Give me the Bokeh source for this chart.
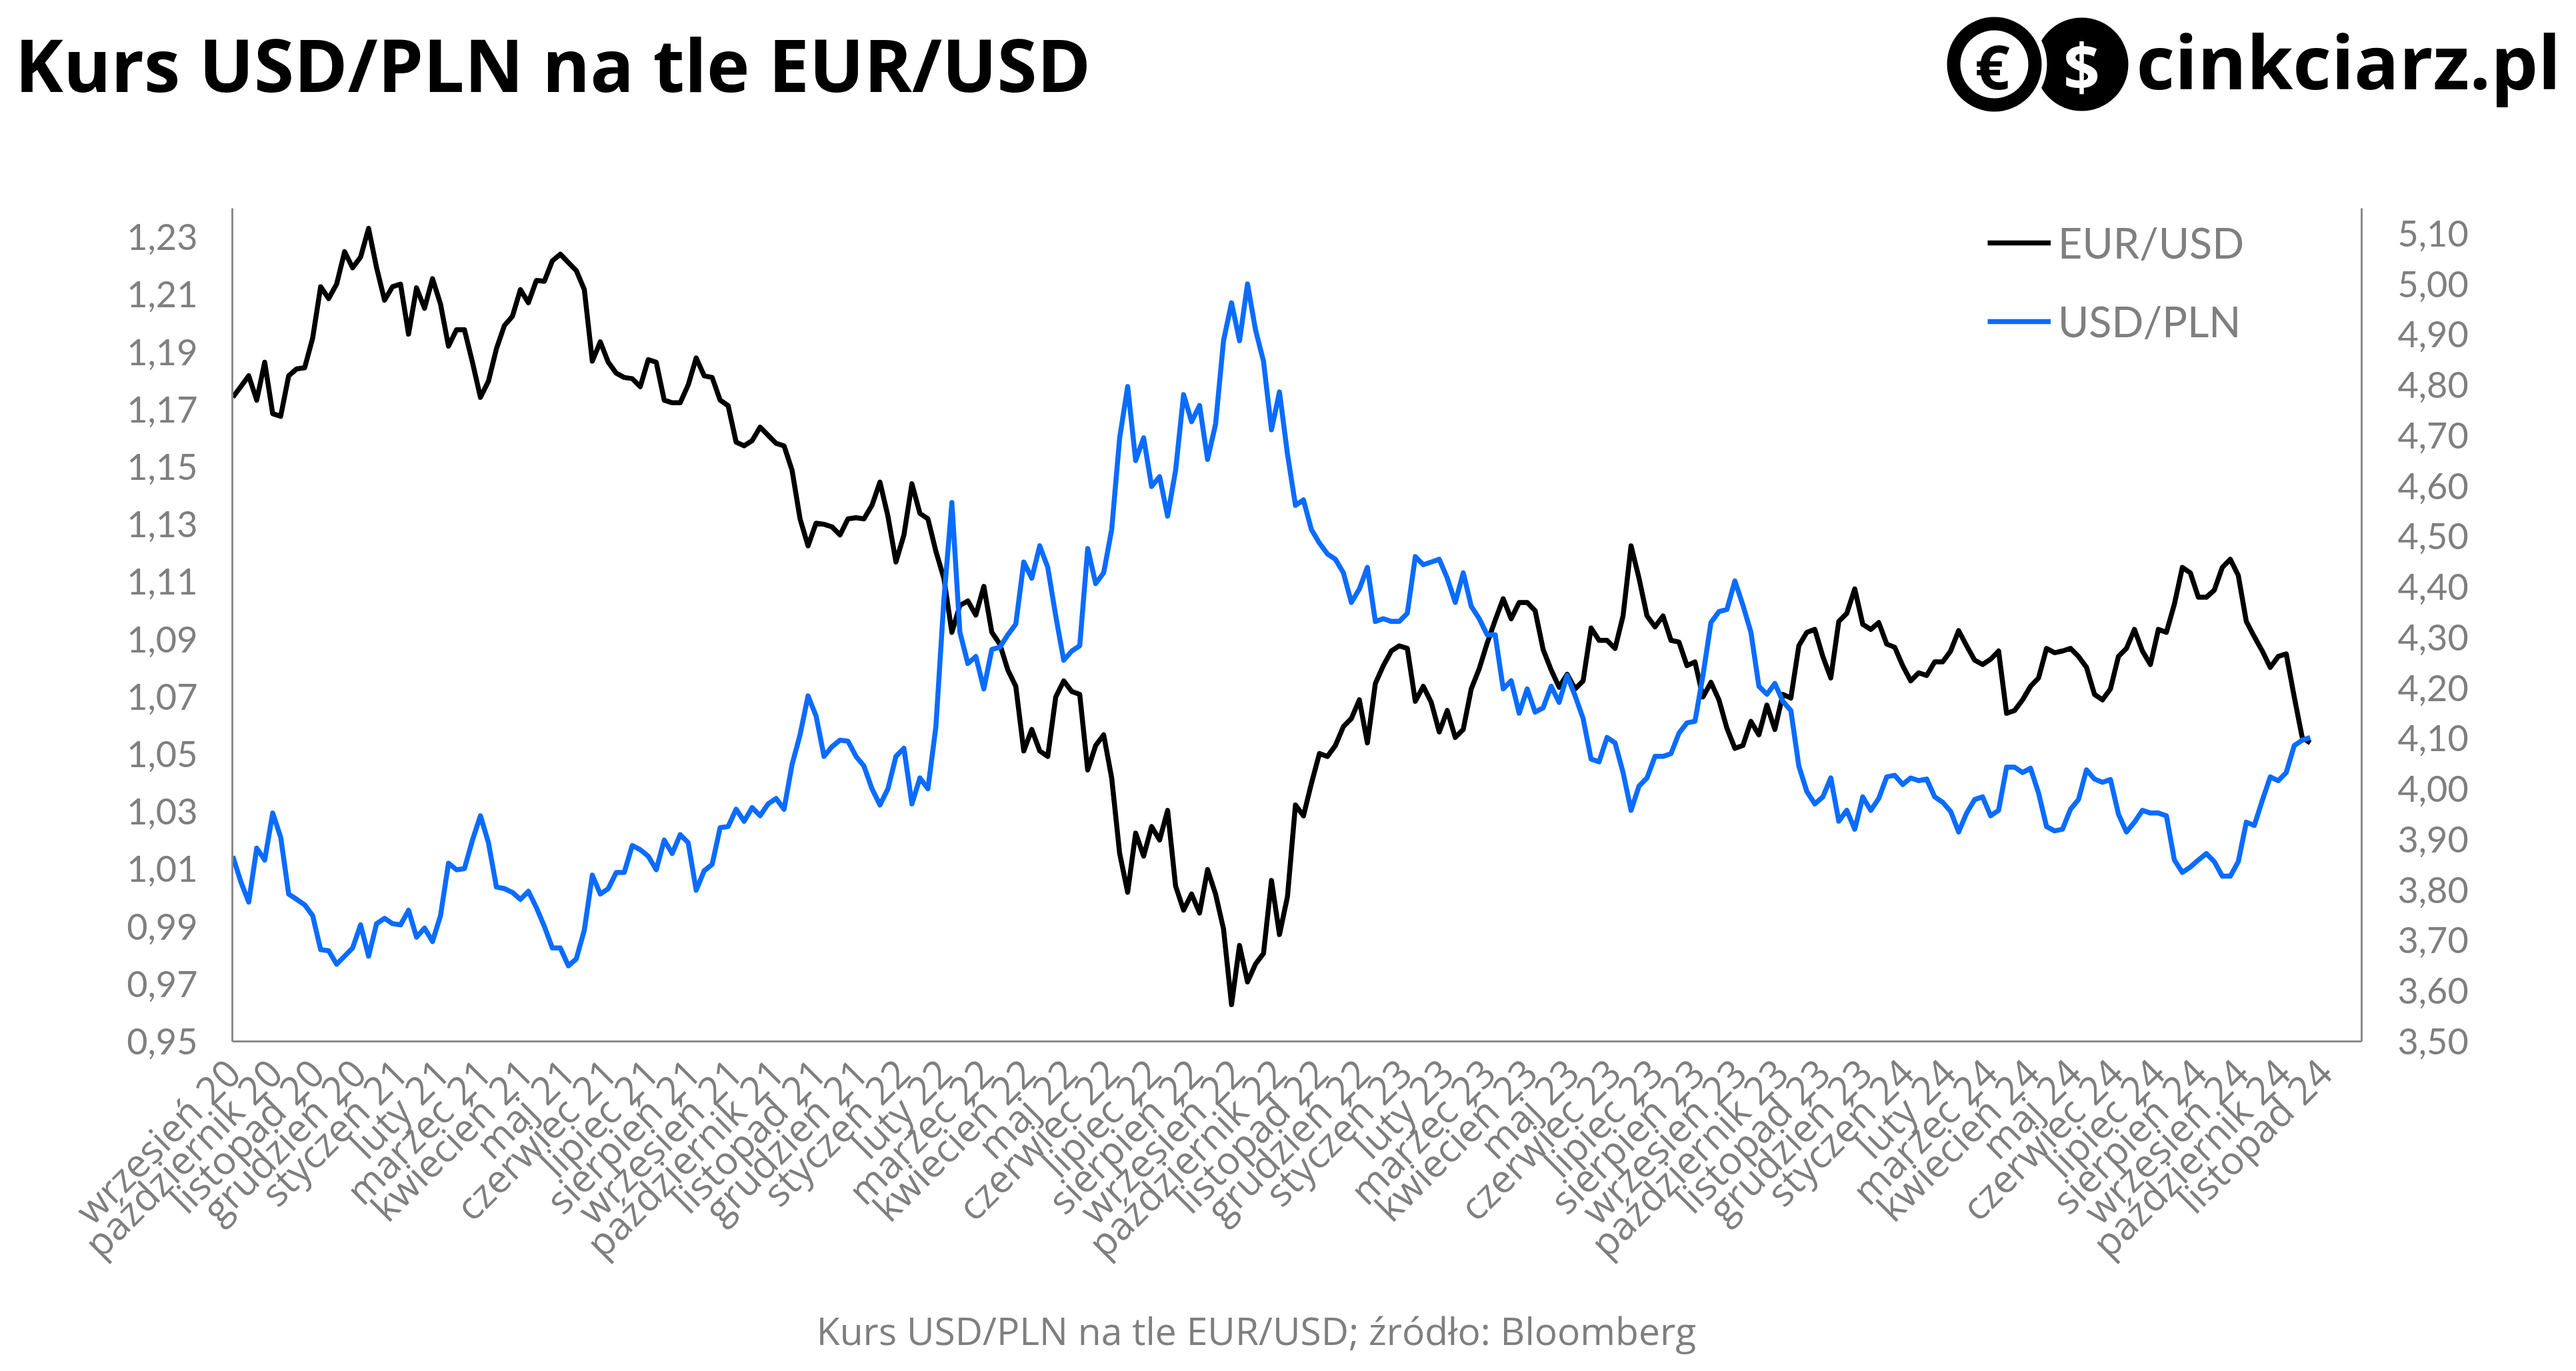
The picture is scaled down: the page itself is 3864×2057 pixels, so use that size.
import numpy as np
from math import pi
from bokeh.plotting import figure
from bokeh.models import (Range1d, LinearAxis, FixedTicker, CustomJSTickFormatter,
                          Label, Legend, LegendItem)
from bokeh.embed import file_html
from bokeh.resources import INLINE

# ---------------- data ----------------
months = [
    "wrzesień 20", "październik 20", "listopad 20", "grudzień 20",
    "styczeń 21", "luty 21", "marzec 21", "kwiecień 21", "maj 21", "czerwiec 21",
    "lipiec 21", "sierpień 21", "wrzesień 21", "październik 21", "listopad 21", "grudzień 21",
    "styczeń 22", "luty 22", "marzec 22", "kwiecień 22", "maj 22", "czerwiec 22",
    "lipiec 22", "sierpień 22", "wrzesień 22", "październik 22", "listopad 22", "grudzień 22",
    "styczeń 23", "luty 23", "marzec 23", "kwiecień 23", "maj 23", "czerwiec 23",
    "lipiec 23", "sierpień 23", "wrzesień 23", "październik 23", "listopad 23", "grudzień 23",
    "styczeń 24", "luty 24", "marzec 24", "kwiecień 24", "maj 24", "czerwiec 24",
    "lipiec 24", "sierpień 24", "wrzesień 24", "październik 24", "listopad 24",
]

eur_usd = [
    1.1742, 1.1779, 1.1817, 1.1732, 1.1864, 1.1685, 1.1676, 1.1817, 1.1841, 1.1845,
    1.1948, 1.2127, 1.2086, 1.2136, 1.2249, 1.2193, 1.2230, 1.2330, 1.2193, 1.2080,
    1.2127, 1.2136, 1.1962, 1.2123, 1.2052, 1.2155, 1.2067, 1.1920, 1.1977, 1.1977,
    1.1864, 1.1742, 1.1798, 1.1911, 1.1992, 1.2024, 1.2117, 1.2071, 1.2149, 1.2146,
    1.2217, 1.2240, 1.2211, 1.2183, 1.2117, 1.1868, 1.1935, 1.1864, 1.1826, 1.1811,
    1.1807, 1.1779, 1.1873, 1.1864, 1.1732, 1.1723, 1.1723, 1.1785, 1.1879, 1.1817,
    1.1811, 1.1732, 1.1713, 1.1586, 1.1573, 1.1591, 1.1638, 1.1610, 1.1582, 1.1573,
    1.1488, 1.1319, 1.1225, 1.1304, 1.1300, 1.1291, 1.1263, 1.1319, 1.1323, 1.1319,
    1.1366, 1.1447, 1.1328, 1.1169, 1.1263, 1.1441, 1.1338, 1.1319, 1.1206, 1.1112,
    1.0924, 1.1018, 1.1033, 1.0984, 1.1084, 1.0924, 1.0883, 1.0793, 1.0736, 1.0511,
    1.0586, 1.0511, 1.0492, 1.0699, 1.0755, 1.0718, 1.0708, 1.0445, 1.0530, 1.0567,
    1.0417, 1.0154, 1.0019, 1.0225, 1.0145, 1.0248, 1.0201, 1.0304, 1.0041, 0.9957,
    1.0013, 0.9947, 1.0098, 1.0013, 0.9891, 0.9628, 0.9834, 0.9707, 0.9769, 0.9806,
    1.0060, 0.9872, 1.0004, 1.0323, 1.0285, 1.0398, 1.0502, 1.0492, 1.0530, 1.0596,
    1.0624, 1.0689, 1.0539, 1.0746, 1.0808, 1.0859, 1.0877, 1.0868, 1.0684, 1.0736,
    1.0680, 1.0577, 1.0652, 1.0558, 1.0586, 1.0727, 1.0797, 1.0887, 1.0966, 1.1041,
    1.0971, 1.1028, 1.1028, 1.0999, 1.0864, 1.0793, 1.0733, 1.0778, 1.0727, 1.0755,
    1.0939, 1.0896, 1.0896, 1.0868, 1.0981, 1.1225, 1.1112, 1.0981, 1.0943, 1.0981,
    1.0896, 1.0890, 1.0808, 1.0821, 1.0699, 1.0750, 1.0689, 1.0590, 1.0520, 1.0530,
    1.0614, 1.0567, 1.0671, 1.0586, 1.0708, 1.0695, 1.0877, 1.0924, 1.0934, 1.0840,
    1.0765, 1.0962, 1.0990, 1.1075, 1.0952, 1.0934, 1.0958, 1.0883, 1.0872, 1.0808,
    1.0755, 1.0783, 1.0774, 1.0821, 1.0821, 1.0859, 1.0930, 1.0877, 1.0827, 1.0812,
    1.0830, 1.0859, 1.0642, 1.0652, 1.0689, 1.0736, 1.0765, 1.0868, 1.0853, 1.0859,
    1.0868, 1.0840, 1.0802, 1.0708, 1.0689, 1.0727, 1.0840, 1.0868, 1.0934, 1.0859,
    1.0812, 1.0934, 1.0924, 1.1022, 1.1150, 1.1131, 1.1046, 1.1046, 1.1071, 1.1150,
    1.1178, 1.1122, 1.0962, 1.0909, 1.0859, 1.0802, 1.0840, 1.0849, 1.0699, 1.0558,
    1.0539,
]

usd_pln = [
    3.8667, 3.8165, 3.7759, 3.8828, 3.8593, 3.9523, 3.9042, 3.7919, 3.7812, 3.7705,
    3.7491, 3.6818, 3.6796, 3.6529, 3.6689, 3.6850, 3.7309, 3.6689, 3.7331, 3.7438,
    3.7331, 3.7309, 3.7598, 3.7064, 3.7245, 3.6978, 3.7491, 3.8528, 3.8400, 3.8421,
    3.8988, 3.9469, 3.8935, 3.8058, 3.8026, 3.7951, 3.7812, 3.7972, 3.7652, 3.7277,
    3.6850, 3.6850, 3.6497, 3.6636, 3.7203, 3.8293, 3.7919, 3.8026, 3.8347, 3.8347,
    3.8881, 3.8796, 3.8667, 3.8400, 3.8988, 3.8721, 3.9095, 3.8935, 3.7994, 3.8379,
    3.8507, 3.9234, 3.9255, 3.9598, 3.9362, 3.9630, 3.9469, 3.9704, 3.9811, 3.9598,
    4.0485, 4.1073, 4.1843, 4.1447, 4.0645, 4.0838, 4.0966, 4.0945, 4.0645, 4.0453,
    4.0004, 3.9683, 4.0004, 4.0645, 4.0806, 3.9704, 4.0218, 4.0004, 4.1233, 4.3746,
    4.5671, 4.3105, 4.2484, 4.2623, 4.1982, 4.2762, 4.2805, 4.3051, 4.3265, 4.4494,
    4.4174, 4.4815, 4.4388, 4.3425, 4.2549, 4.2730, 4.2837, 4.4762, 4.4067, 4.4281,
    4.5136, 4.6954, 4.7969, 4.6505, 4.6954, 4.5991, 4.6184, 4.5403, 4.6312, 4.7809,
    4.7274, 4.7595, 4.6526, 4.7221, 4.8878, 4.9627, 4.8878, 5.0001, 4.9092, 4.8472,
    4.7114, 4.7862, 4.6633, 4.5617, 4.5724, 4.5136, 4.4869, 4.4655, 4.4548, 4.4281,
    4.3693, 4.3960, 4.4388, 4.3318, 4.3372, 4.3318, 4.3318, 4.3479, 4.4601, 4.4441,
    4.4494, 4.4548, 4.4174, 4.3693, 4.4281, 4.3618, 4.3372, 4.3051, 4.3051, 4.1982,
    4.2142, 4.1501, 4.1982, 4.1522, 4.1608, 4.2035, 4.1715, 4.2249, 4.1843, 4.1394,
    4.0592, 4.0538, 4.1020, 4.0913, 4.0325, 3.9576, 4.0057, 4.0218, 4.0645, 4.0645,
    4.0699, 4.1105, 4.1308, 4.1340, 4.2249, 4.3297, 4.3511, 4.3554, 4.4120, 4.3639,
    4.3105, 4.2035, 4.1875, 4.2089, 4.1736, 4.1554, 4.0453, 3.9950, 3.9704, 3.9843,
    4.0218, 3.9362, 3.9576, 3.9202, 3.9843, 3.9576, 3.9811, 4.0239, 4.0271, 4.0089,
    4.0218, 4.0164, 4.0196, 3.9843, 3.9737, 3.9555, 3.9148, 3.9523, 3.9790, 3.9843,
    3.9469, 3.9576, 4.0432, 4.0432, 4.0325, 4.0410, 3.9918, 3.9255, 3.9170, 3.9202,
    3.9598, 3.9790, 4.0378, 4.0196, 4.0132, 4.0186, 3.9502, 3.9148, 3.9341, 3.9576,
    3.9523, 3.9523, 3.9469, 3.8593, 3.8347, 3.8453, 3.8593, 3.8721, 3.8560, 3.8272,
    3.8272, 3.8560, 3.9341, 3.9277, 3.9769, 4.0239, 4.0164, 4.0325, 4.0859, 4.0966,
    4.1020,
]

left_ticks = [0.95, 0.97, 0.99, 1.01, 1.03, 1.05, 1.07, 1.09, 1.11, 1.13, 1.15,
              1.17, 1.19, 1.21, 1.23]
right_ticks = [3.5, 3.6, 3.7, 3.8, 3.9, 4.0, 4.1, 4.2, 4.3, 4.4, 4.5, 4.6, 4.7,
               4.8, 4.9, 5.0, 5.1]

title_text = "Kurs USD/PLN na tle EUR/USD"
source_text = "Kurs USD/PLN na tle EUR/USD; źródło: Bloomberg"

# ---------------- layout / style ----------------
W = 3864
HEAD_H, MAIN_H, FOOT_H = 200, 1750, 107
FRAME_L, FRAME_R = 348, 3542
FRAME_T, FRAME_B = 112, 1362          # inside main figure
GRAY = "#7f7f7f"
AXIS_GRAY = "#8a8a8a"
BLUE = "#0a6cff"
FONT = "Lato"
FONT2 = "Open Sans"

def blank_fig(h):
    f = figure(width=W, height=h, output_backend="svg", toolbar_location=None,
               x_range=Range1d(0, W), y_range=Range1d(h, 0),
               x_axis_type=None, y_axis_type=None, title=None,
               min_border_left=0, min_border_right=0, min_border_top=0,
               min_border_bottom=0)
    f.outline_line_color = None
    f.xgrid.visible = False
    f.ygrid.visible = False
    f.background_fill_color = "white"
    f.border_fill_color = "white"
    return f

# ---- header: title + logo ----
head = blank_fig(HEAD_H)
head.add_layout(Label(x=22, y=95, text=title_text, text_font=FONT2,
                      text_font_style="bold", text_font_size="109px",
                      text_color="black", text_align="left",
                      text_baseline="middle"))
head.circle(x=3122, y=96, radius=70, fill_color="black", line_color=None)
head.circle(x=2991, y=96, radius=79, fill_color="white", line_color=None)
head.circle(x=2991, y=96, radius=71, fill_color="black", line_color=None)
head.circle(x=2991, y=96, radius=51, fill_color="white", line_color=None)
head.add_layout(Label(x=2988, y=98, text="€", text_font=FONT2,
                      text_font_style="bold", text_font_size="92px",
                      text_color="black", text_align="center", text_baseline="middle"))
head.add_layout(Label(x=3122, y=98, text="$", text_font=FONT2,
                      text_font_style="bold", text_font_size="96px",
                      text_color="white", text_align="center", text_baseline="middle"))
head.add_layout(Label(x=3204, y=90, text="cinkciarz.pl", text_font=FONT2,
                      text_font_style="bold", text_font_size="112px",
                      text_color="black", text_align="left",
                      text_baseline="middle"))

# ---- main chart ----
# x in "month label" units: label k sits at k
x_first = 0.0
months_per_obs = 0.1910
x = x_first + months_per_obs * np.arange(len(eur_usd))

p = figure(width=W, height=MAIN_H, output_backend="svg", toolbar_location=None,
           x_range=Range1d(-0.01, 50.89), y_range=Range1d(0.95, 1.24), title=None,
           min_border_left=FRAME_L, min_border_right=W - FRAME_R,
           min_border_top=FRAME_T, min_border_bottom=MAIN_H - FRAME_B)
p.outline_line_color = None
p.background_fill_color = "white"
p.border_fill_color = "white"
p.xgrid.visible = False
p.ygrid.visible = False
p.extra_y_ranges = {"pln": Range1d(3.5, 5.15)}

r_eur = p.line(x, eur_usd, line_color="black", line_width=7.5, line_join="round")
r_pln = p.line(x, usd_pln, line_color=BLUE, line_width=7.5, line_join="round",
               y_range_name="pln")

right_axis = LinearAxis(y_range_name="pln")
p.add_layout(right_axis, "right")

p.yaxis[0].ticker = FixedTicker(ticks=left_ticks)
p.yaxis[0].formatter = CustomJSTickFormatter(code="return tick.toFixed(2).replace('.', ',');")
right_axis.ticker = FixedTicker(ticks=right_ticks)
right_axis.formatter = CustomJSTickFormatter(code="return tick.toFixed(2).replace('.', ',');")

p.xaxis.ticker = FixedTicker(ticks=list(range(len(months))))
p.xaxis.major_label_overrides = {k: m for k, m in enumerate(months)}
p.xaxis.major_label_orientation = pi / 4

for ax in [p.xaxis[0], p.yaxis[0], right_axis]:
    ax.axis_line_color = AXIS_GRAY
    ax.axis_line_width = 3
    ax.major_tick_line_color = None
    ax.minor_tick_line_color = None
    ax.major_tick_out = 0
    ax.major_tick_in = 0
    ax.minor_tick_out = 0
    ax.major_label_text_color = GRAY
    ax.major_label_text_font = FONT
    ax.major_label_text_font_size = "54px"
p.yaxis[0].major_label_standoff = 52
right_axis.major_label_standoff = 54
p.xaxis[0].major_label_standoff = 36
p.xaxis[0].major_label_text_font = FONT2
p.xaxis[0].major_label_text_font_size = "58px"

legend = Legend(items=[LegendItem(label="EUR/USD", renderers=[r_eur]),
                       LegendItem(label="USD/PLN", renderers=[r_pln])],
                location=(2981 - FRAME_L, 1043), orientation="vertical",
                border_line_color=None, background_fill_alpha=0,
                label_text_font=FONT, label_text_font_size="63px",
                label_text_color=GRAY, glyph_width=95, glyph_height=60,
                label_height=60, label_standoff=11, spacing=43, padding=0, margin=0)
p.add_layout(legend)

# ---- footer ----
foot = blank_fig(FOOT_H)
foot.add_layout(Label(x=1884, y=45, text=source_text, text_font=FONT2,
                      text_font_size="57px", text_color=GRAY,
                      text_align="center", text_baseline="middle"))

open("out.html", "w").write(file_html([head, p, foot], INLINE))
